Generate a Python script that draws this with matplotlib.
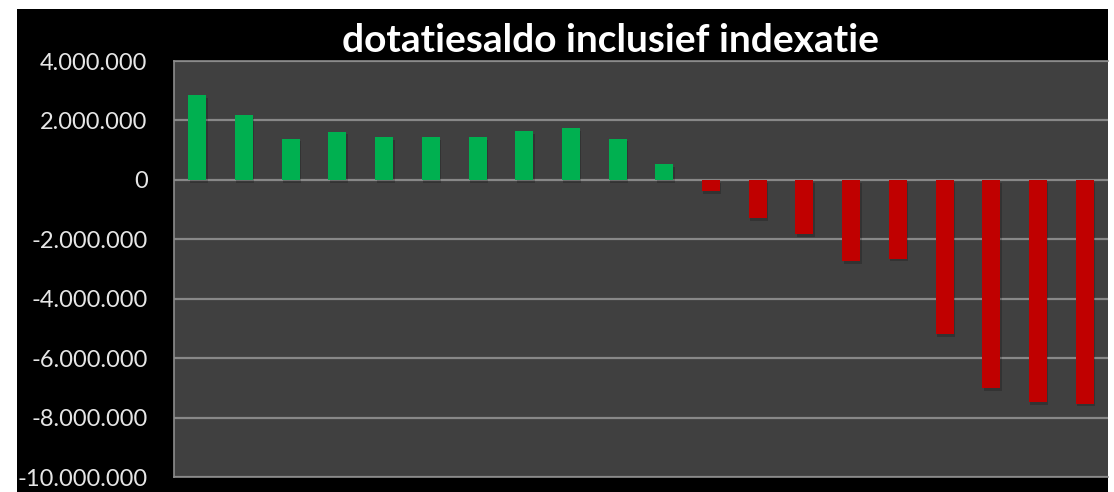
import matplotlib
matplotlib.use("Agg")
import matplotlib.pyplot as plt
import matplotlib.patheffects as pe
from matplotlib.ticker import FuncFormatter

# Data
categories = [str(i) for i in range(1, 21)]
values = [2860000, 2180000, 1390000, 1620000, 1440000, 1440000, 1440000,
          1650000, 1740000, 1390000, 530000, -390000, -1300000, -1820000,
          -2730000, -2650000, -5200000, -7020000, -7490000, -7530000]
yticks = [4000000, 2000000, 0, -2000000, -4000000, -6000000, -8000000, -10000000]
title = "dotatiesaldo inclusief indexatie"

W, H = 1114, 492
fig = plt.figure(figsize=(W / 100, H / 100), dpi=100, facecolor="white")

# black chart-area background
bg = fig.add_axes([17 / W, 0, (1108 - 17) / W, (492 - 9) / H], zorder=0)
bg.set_facecolor("black")
bg.set_xticks([])
bg.set_yticks([])
for s in bg.spines.values():
    s.set_visible(False)

ax = fig.add_axes([174 / W, (H - 477) / H, (1108 - 174) / W, (477 - 61) / H], zorder=1)
ax.set_facecolor("#404040")

colors = ["#00B050" if v >= 0 else "#C00000" for v in values]
x = list(range(len(values)))
bars = ax.bar(x, values, width=0.385, color=colors, zorder=3)
for b in bars:
    b.set_path_effects([pe.SimplePatchShadow(offset=(1, -2), shadow_rgbFace="black", alpha=0.2),
                        pe.Normal()])

ax.set_xlim(-0.5, len(values) - 0.5)
ax.set_ylim(-10000000, 4000000)
ax.set_yticks(yticks)
ax.yaxis.set_major_formatter(FuncFormatter(lambda v, p: f"{int(v):,}".replace(",", ".")))
ax.grid(axis="y", color="#888888", linewidth=1.6, zorder=1)
ax.set_xticks([])
ax.tick_params(axis="y", length=0, pad=19, labelcolor="#e6e6e6", labelsize=17)
for lbl in ax.get_yticklabels():
    lbl.set_fontfamily("Lato")
for side in ["left", "top", "bottom", "right"]:
    ax.spines[side].set_color("#8c8c8c")
    ax.spines[side].set_linewidth(1.2)
ax.spines["right"].set_visible(False)

fig.text(611 / W, 1 - 41 / H, title, ha="center", va="center", color="white",
         fontsize=28, fontweight="bold", fontfamily="Lato", zorder=5)

fig.savefig("out.png", dpi=100, facecolor=fig.get_facecolor())
